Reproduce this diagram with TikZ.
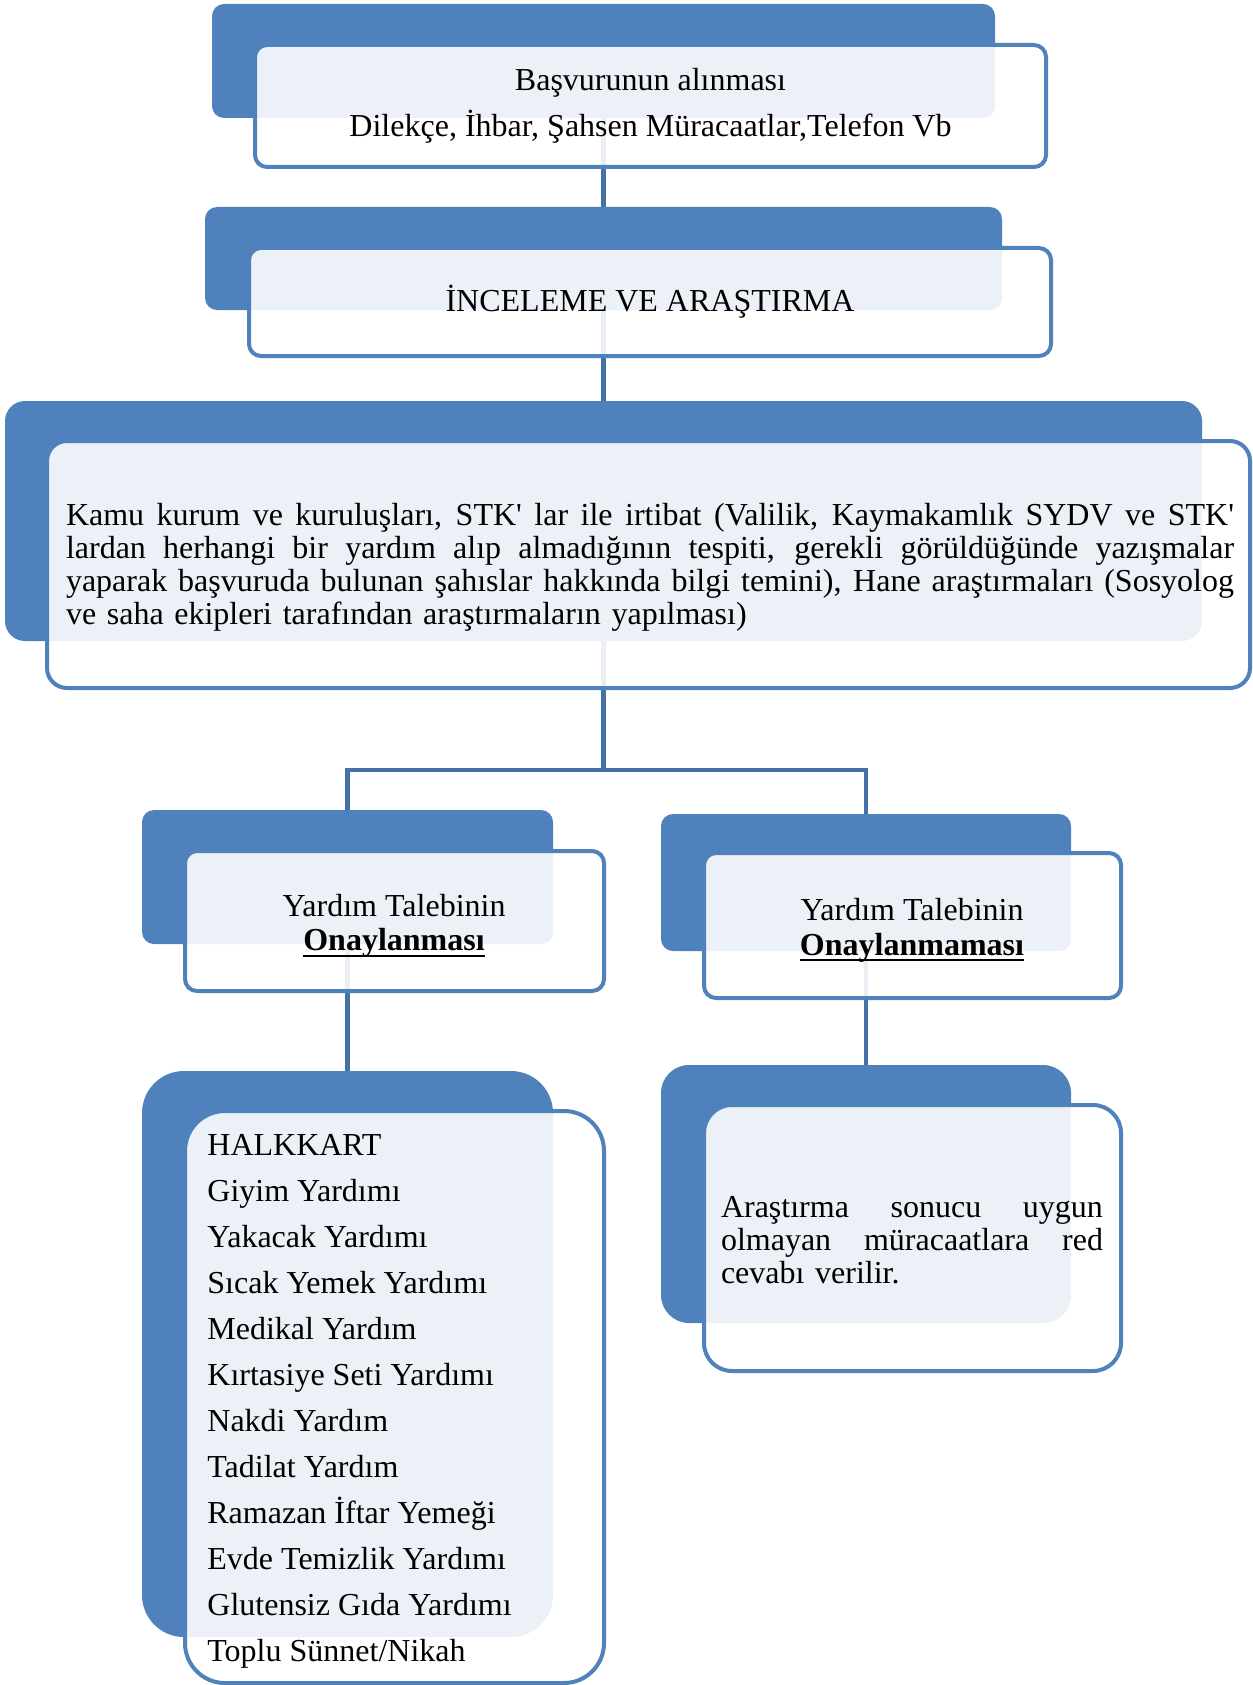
\documentclass[tikz,border=0pt]{standalone}
\usepackage{fontspec}
\setmainfont{Liberation Serif}[Ligatures=TeXOff]
\usetikzlibrary{fit,backgrounds}
\definecolor{sblue}{RGB}{79,129,189}
\definecolor{lblue}{RGB}{68,114,168}
\newcommand\jline[2]{\leavevmode\hbox to #1{\spaceskip=0.25em plus 1fil\relax #2}}
\newcommand\ulbold[1]{\leavevmode\setbox0\hbox{\textbf{#1}}\rlap{\rule[-3pt]{\wd0}{1pt}}\box0}
\begin{document}
\begin{tikzpicture}[x=0.5pt,y=-0.5pt,
  back/.style={fill=sblue, draw=none, inner sep=0pt, outer sep=0pt, rounded corners=#1},
  back/.default=6pt,
  front/.style={fill=white, fill opacity=0.89, draw=sblue, draw opacity=1, line width=2pt, inner sep=0pt, outer sep=0pt, rounded corners=#1},
  front/.default=6pt,
  txt/.style={font=\fontsize{16}{16.5}\selectfont, inner sep=0pt, align=center},
  conn/.style={draw=lblue, line width=2.2pt}]
\useasboundingbox (0,0) rectangle (1252,1685);

% Box 1
\node[back, fit={(212,4) (995,118)}] (b1b) {};
\node[front, fit={(255,45) (1046,167)}] (b1f) {};
\node[txt, font=\fontsize{16}{23}\selectfont] (t1) at (b1f.center) {Başvurunun alınması\\Dilekçe, İhbar, Şahsen Müracaatlar,Telefon Vb};

% Box 2
\node[back, fit={(205,207) (1002,310)}] (b2b) {};
\node[front, fit={(249,248) (1051,356)}] (b2f) {};
\node[txt] (t2) at (b2f.center) {İNCELEME VE ARAŞTIRMA};

% Box 3
\node[back=10pt, fit={(5,401) (1202,641)}] (b3b) {};
\node[front=10pt, fit={(47,441) (1250,688)}] (b3f) {};
\node[txt, text width=584pt, align=left] (t3) at (650,567) {%
\jline{584pt}{Kamu kurum ve kuruluşları, STK' lar ile irtibat (Valilik, Kaymakamlık SYDV ve STK'}\\
\jline{584pt}{lardan herhangi bir yardım alıp almadığının tespiti, gerekli görüldüğünde yazışmalar}\\
\jline{584pt}{yaparak başvuruda bulunan şahıslar hakkında bilgi temini), Hane araştırmaları (Sosyolog}\\
ve saha ekipleri tarafından araştırmaların yapılması)};

% Box 4
\node[back, fit={(142,810) (553,944)}] (b4b) {};
\node[front, fit={(185,851) (604,991)}] (b4f) {};
\node[txt, font=\fontsize{16}{17}\selectfont] (t4) at (394,926) {Yardım Talebinin\\\ulbold{Onaylanması}};

% Box 5
\node[back, fit={(661,814) (1071,951)}] (b5b) {};
\node[front, fit={(704,853) (1121,998)}] (b5f) {};
\node[txt, font=\fontsize{16}{17.5}\selectfont] (t5) at (912,930) {Yardım Talebinin\\\ulbold{Onaylanmaması}};

% Box 6
\node[back=21pt, fit={(142,1071) (553,1637)}] (b6b) {};
\node[front=20pt, fit={(185,1111) (604,1683)}] (b6f) {};
\node[txt, font=\fontsize{16}{23}\selectfont, align=left, anchor=west] (t6) at (207,1401) {HALKKART\\Giyim Yardımı\\Yakacak Yardımı\\Sıcak Yemek Yardımı\\Medikal Yardım\\Kırtasiye Seti Yardımı\\Nakdi Yardım\\Tadilat Yardım\\Ramazan İftar Yemeği\\Evde Temizlik Yardımı\\Glutensiz Gıda Yardımı\\Toplu Sünnet/Nikah};

% Box 7
\node[back=14pt, fit={(661,1065) (1071,1323)}] (b7b) {};
\node[front=14pt, fit={(704,1105) (1121,1371)}] (b7f) {};
\node[txt, text width=191pt, align=left] (t7) at (912,1240) {%
\jline{191pt}{Araştırma sonucu uygun}\\
\jline{191pt}{olmayan müracaatlara red}\\
cevabı verilir.};

\coordinate (split) at (603.5,770);
\begin{scope}[on background layer]
\fill[white] (0,0) rectangle (1252,1685);
\draw[conn] (b1b.center) -- (b2b.center);
\draw[conn] (b2b.center) -- (b3b.center);
\draw[conn] (b3b.center) -- (split);
\draw[conn] (split) -| (b4b.center);
\draw[conn] (split) -| (b5b.center);
\draw[conn] (b4b.center) -- (b6b.center);
\draw[conn] (b5b.center) -- (b7b.center);
\end{scope}
\end{tikzpicture}
\end{document}
